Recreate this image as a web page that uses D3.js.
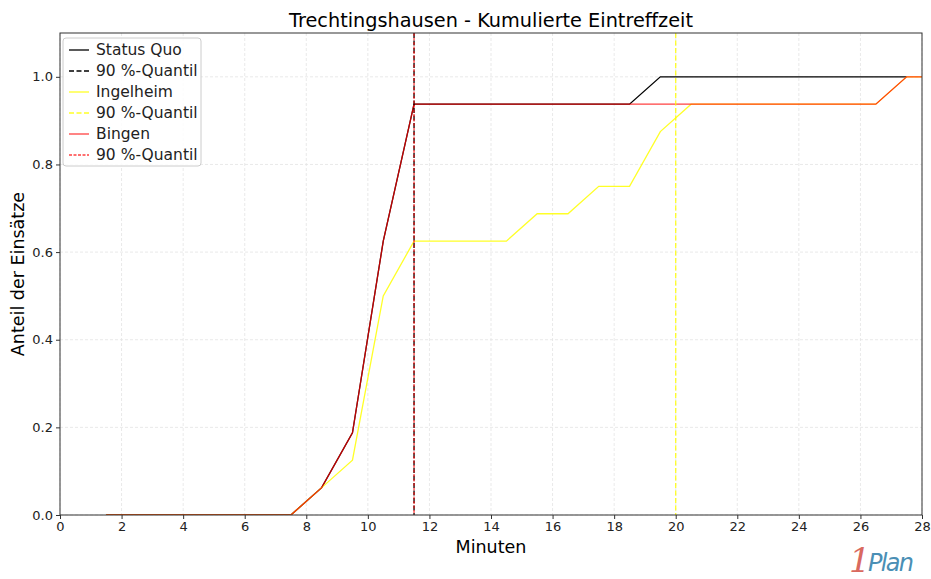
<!DOCTYPE html>
<html><head><meta charset="utf-8">
<script src="https://cdn.jsdelivr.net/npm/d3@7"></script>
<style>body{margin:0;background:#fff;} text{font-family:"DejaVu Sans",sans-serif;}</style>
</head><body>
<svg id="c" width="931" height="579"></svg>
<script>
const minutes = [1.5,2.5,3.5,4.5,5.5,6.5,7.5,8.5,9.5,10.5,11.5,12.5,13.5,14.5,15.5,16.5,17.5,18.5,19.5,20.5,21.5,22.5,23.5,24.5,25.5,26.5,27.5,28.5];
const statusQuo = [0,0,0,0,0,0,0,0.0625,0.1875,0.625,0.9375,0.9375,0.9375,0.9375,0.9375,0.9375,0.9375,0.9375,1,1,1,1,1,1,1,1,1,null];
const ingelheim = [0,0,0,0,0,0,0,0.0625,0.125,0.5,0.625,0.625,0.625,0.625,0.6875,0.6875,0.75,0.75,0.875,0.9375,0.9375,0.9375,0.9375,0.9375,0.9375,0.9375,1,1];
const bingen = [0,0,0,0,0,0,0,0.0625,0.1875,0.625,0.9375,0.9375,0.9375,0.9375,0.9375,0.9375,0.9375,0.9375,0.9375,0.9375,0.9375,0.9375,0.9375,0.9375,0.9375,0.9375,1,1];
const quantiles = {statusQuo:11.5, ingelheim:20, bingen:11.5};
const xTicks = [0,2,4,6,8,10,12,14,16,18,20,22,24,26,28];
const yTicks = [0,0.2,0.4,0.6,0.8,1.0];

const svg = d3.select("#c");
const L=60,R=922,T=33,B=515;
const x = d3.scaleLinear().domain([0,28]).range([L,R]);
const y = d3.scaleLinear().domain([0,1.1]).range([B,T]);

svg.append("defs").append("clipPath").attr("id","clip").append("rect")
  .attr("x",L).attr("y",T).attr("width",R-L).attr("height",B-T);

// grid
const g = svg.append("g");
xTicks.forEach(t=>g.append("line").attr("x1",x(t)).attr("x2",x(t)).attr("y1",T).attr("y2",B)
  .attr("stroke","#e3e3e3").attr("stroke-width",0.8).attr("stroke-dasharray","3,2"));
yTicks.forEach(t=>g.append("line").attr("x1",L).attr("x2",R).attr("y1",y(t)).attr("y2",y(t))
  .attr("stroke","#e3e3e3").attr("stroke-width",0.8).attr("stroke-dasharray","3,2"));

const plot = svg.append("g").attr("clip-path","url(#clip)");
const line = d3.line().defined(d=>d[1]!==null).x(d=>x(d[0])).y(d=>y(d[1]));
const series = [
  {name:"Status Quo", vals:statusQuo, color:"#000000", op:1, q:quantiles.statusQuo, dash:"5,2.5", w:1.3},
  {name:"Ingelheim", vals:ingelheim, color:"#ffff00", op:0.85, q:quantiles.ingelheim, dash:"5,2.5", w:1.3},
  {name:"Bingen", vals:bingen, color:"#ff0000", op:0.75, q:quantiles.bingen, dash:"3,1.5", w:1.3}
];
series.forEach(s=>{
  plot.append("path").datum(minutes.map((m,i)=>[m,s.vals[i]]))
    .attr("d",line).attr("fill","none").attr("stroke",s.color).attr("stroke-opacity",s.op).attr("stroke-width",s.w);
});
series.forEach(s=>{
  plot.append("line").attr("x1",x(s.q)).attr("x2",x(s.q)).attr("y1",T).attr("y2",B)
    .attr("stroke",s.color).attr("stroke-opacity",s.op).attr("stroke-width",1.3).attr("stroke-dasharray",s.dash);
});

// frame
svg.append("rect").attr("x",L).attr("y",T).attr("width",R-L).attr("height",B-T)
  .attr("fill","none").attr("stroke","#333").attr("stroke-width",1);

// axes
const xa = svg.append("g").attr("transform",`translate(0,${B})`)
  .call(d3.axisBottom(x).tickValues(xTicks).tickFormat(d3.format("d")).tickSize(4).tickSizeOuter(0));
const ya = svg.append("g").attr("transform",`translate(${L},0)`)
  .call(d3.axisLeft(y).tickValues(yTicks).tickFormat(d3.format(".1f")).tickSize(4).tickSizeOuter(0));
[xa,ya].forEach(a=>{a.select(".domain").remove(); a.selectAll("text").attr("font-size",13).attr("fill","#222").style("font-family","DejaVu Sans"); a.selectAll("line").attr("stroke","#333");});

svg.append("text").attr("x",(L+R)/2).attr("y",27).attr("text-anchor","middle").attr("font-size",19.3).text("Trechtingshausen - Kumulierte Eintreffzeit");
svg.append("text").attr("x",(L+R)/2).attr("y",553).attr("text-anchor","middle").attr("font-size",17.5).text("Minuten");
svg.append("text").attr("transform",`translate(24,${(T+B)/2}) rotate(-90)`).attr("text-anchor","middle").attr("font-size",17.5).text("Anteil der Einsätze");

// legend
const lg = svg.append("g");
lg.append("rect").attr("x",63).attr("y",38).attr("width",138).attr("height",128).attr("rx",3)
  .attr("fill","#fff").attr("fill-opacity",0.85).attr("stroke","#ccc").attr("stroke-width",1);
const entries = [];
series.forEach(s=>{entries.push({label:s.name,color:s.color,op:s.op,dash:null});entries.push({label:"90 %-Quantil",color:s.color,op:s.op,dash:s.dash});});
entries.forEach((e,i)=>{
  const yy = 50 + i*21;
  lg.append("line").attr("x1",69).attr("x2",89).attr("y1",yy).attr("y2",yy).attr("stroke",e.color)
    .attr("stroke-opacity",e.op).attr("stroke-width",1.3).attr("stroke-dasharray",e.dash);
  lg.append("text").attr("x",96).attr("y",yy+5).attr("font-size",15.5).attr("fill","#222").text(e.label);
});

// logo
svg.append("text").attr("x",849).attr("y",572).attr("font-size",34).attr("fill","#d9695f")
  .style("font-family","DejaVu Serif").style("font-style","italic").text("1");
svg.append("text").attr("x",868).attr("y",571).attr("font-size",24).attr("fill","#4a8fb5")
  .style("font-family","DejaVu Sans").style("font-style","italic").attr("textLength",46).text("Plan");
</script>
</body></html>
